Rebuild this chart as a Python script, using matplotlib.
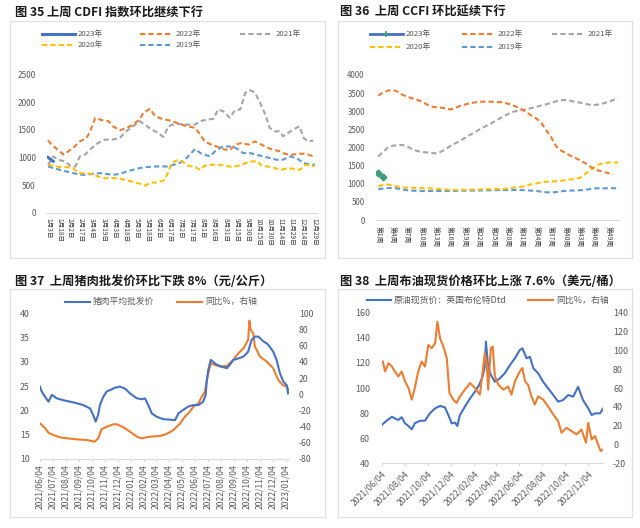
import numpy as np
import pandas as pd
import matplotlib
matplotlib.use('Agg')
import matplotlib.pyplot as plt
from matplotlib.lines import Line2D
from matplotlib.patches import Rectangle

plt.rcParams['font.family'] = ['Noto Sans CJK SC', 'DejaVu Sans']
plt.rcParams['axes.unicode_minus'] = False

# ---------------- data: 图35 CDFI (x = days after 1月3日) ----------------
cdfi_ticklabels = ['1月3日', '1月18日', '2月2日', '2月17日', '3月4日', '3月19日', '4月3日',
                   '4月18日', '5月3日', '5月18日', '6月2日', '6月17日', '7月2日', '7月17日',
                   '8月1日', '8月16日', '8月31日', '9月15日', '9月30日', '10月15日', '10月30日',
                   '11月14日', '11月29日', '12月14日', '12月29日']
cdfi_d2023 = [0, 7]
cdfi_v2023 = [1000, 930]
cdfi_d2022 = [0, 5, 21, 34, 43, 52, 57, 64, 73, 82, 88, 97, 107, 115, 124, 129, 138, 145, 154, 163,
              172, 185, 199, 206, 212, 221, 230, 240, 247, 253, 262, 271, 280, 289, 298, 305, 314,
              321, 330, 339, 348, 357, 361]
cdfi_v2022 = [1310, 1230, 1050, 1170, 1290, 1350, 1470, 1716, 1673, 1655, 1564, 1490, 1534, 1595,
              1685, 1807, 1880, 1745, 1698, 1673, 1636, 1576, 1534, 1413, 1290, 1230, 1190, 1140,
              1140, 1230, 1262, 1230, 1290, 1230, 1170, 1140, 1110, 1062, 1050, 1067, 1067, 1030, 1020]
cdfi_d2021 = [0, 7, 14, 23, 30, 37, 43, 50, 59, 68, 77, 87, 97, 106, 115, 124, 131, 140, 149, 156,
              163, 172, 185, 199, 206, 215, 224, 230, 237, 246, 253, 260, 267, 273, 280, 287, 294,
              300, 307, 313, 318, 325, 332, 340, 346, 352, 359]
cdfi_v2021 = [867, 1018, 958, 927, 850, 836, 1018, 1050, 1170, 1262, 1322, 1322, 1352, 1473, 1564,
              1655, 1595, 1504, 1443, 1370, 1564, 1610, 1595, 1595, 1655, 1685, 1698, 1867, 1836,
              1716, 1855, 1867, 2170, 2218, 2170, 1989, 1776, 1534, 1473, 1473, 1382, 1443, 1504,
              1564, 1352, 1290, 1304]
cdfi_d2020 = [0, 7, 16, 25, 34, 41, 50, 59, 68, 77, 86, 95, 104, 113, 122, 131, 140, 149, 158, 163,
              167, 176, 181, 190, 199, 206, 212, 221, 230, 240, 249, 258, 267, 276, 283, 289, 298,
              307, 316, 325, 334, 341, 348, 357, 361]
cdfi_v2020 = [867, 850, 825, 825, 807, 716, 716, 700, 655, 625, 625, 625, 595, 564, 534, 491, 545,
              545, 595, 745, 898, 958, 927, 850, 825, 776, 850, 867, 867, 850, 825, 850, 898, 927,
              935, 850, 836, 807, 776, 807, 790, 776, 867, 850, 840]
cdfi_d2019 = [0, 7, 16, 25, 34, 43, 52, 61, 70, 79, 88, 97, 106, 115, 124, 134, 142, 152, 161, 170,
              178, 185, 192, 199, 206, 212, 219, 226, 235, 244, 251, 258, 264, 273, 282, 291, 300,
              309, 318, 327, 336, 346, 355, 361]
cdfi_v2019 = [836, 807, 776, 745, 716, 686, 686, 704, 716, 700, 686, 700, 745, 776, 807, 825, 836,
              836, 836, 867, 900, 958, 1050, 1153, 1080, 1050, 1018, 1110, 1190, 1200, 1190, 1140,
              1080, 1080, 1050, 1018, 990, 958, 958, 1018, 990, 898, 867, 870]

# ---------------- data: 图36 CCFI (weekly) ----------------
ccfi_tickweeks = [1, 4, 7, 10, 13, 16, 19, 22, 25, 28, 31, 34, 37, 40, 43, 46, 49]
ccfi_ticklabels = ['第1周', '第4周', '第7周', '第10周', '第13周', '第16周', '第19周', '第22周',
                   '第25周', '第28周', '第31周', '第34周', '第37周', '第40周', '第43周', '第46周',
                   '第49周']
ccfi_2023 = [1290, 1200]
ccfi_2022 = [3430, 3520, 3570, 3590, 3540, 3460, 3400, 3360, 3320, 3270, 3200, 3130, 3110, 3100,
             3080, 3050, 3080, 3150, 3180, 3220, 3240, 3260, 3265, 3265, 3260, 3255, 3245, 3210,
             3170, 3110, 3050, 2960, 2880, 2800, 2680, 2480, 2300, 2050, 1930, 1850, 1780, 1720,
             1650, 1580, 1490, 1410, 1360, 1330, 1290, 1260]
ccfi_2021 = [1750, 1880, 2000, 2050, 2060, 2070, 2030, 1960, 1910, 1880, 1865, 1850, 1840, 1880,
             1950, 2040, 2110, 2180, 2260, 2340, 2410, 2490, 2560, 2630, 2700, 2780, 2850, 2920,
             2980, 3010, 3030, 3060, 3090, 3120, 3160, 3190, 3230, 3270, 3300, 3310, 3290, 3260,
             3240, 3210, 3180, 3170, 3190, 3220, 3260, 3310, 3360]
ccfi_2020 = [930, 970, 980, 950, 920, 900, 890, 890, 885, 880, 875, 870, 860, 850, 840, 830, 830,
             830, 830, 835, 840, 840, 845, 850, 850, 855, 860, 870, 890, 905, 920, 950, 990, 1010,
             1040, 1055, 1065, 1070, 1080, 1100, 1120, 1135, 1160, 1250, 1360, 1450, 1530, 1570,
             1585, 1585, 1580]
ccfi_2019 = [850, 870, 880, 890, 870, 840, 820, 810, 805, 800, 800, 800, 800, 800, 800, 800, 805,
             805, 810, 810, 812, 815, 818, 820, 822, 825, 828, 828, 828, 828, 825, 820, 810, 800,
             780, 765, 760, 770, 790, 805, 810, 815, 820, 830, 850, 870, 875, 875, 875, 875, 875]

# ---------------- data: 图37 猪肉 (days after 2021/06/04) ----------------
pork_start = '2021-06-04'
pork_price_day = [0, 4, 12, 20, 24, 28, 39, 55, 71, 86, 102, 118, 125, 131, 137, 141, 149, 157, 165,
                  177, 188, 200, 212, 228, 239, 247, 255, 263, 275, 290, 306, 318, 326, 337, 349,
                  361, 373, 384, 390, 392, 396, 402, 408, 416, 428, 440, 447, 455, 467, 479, 490,
                  498, 506, 514, 526, 534, 541, 549, 557, 565, 573, 581, 584]
pork_price = [24.9, 23.9, 22.8, 21.8, 22.5, 23.2, 22.5, 22.1, 21.8, 21.5, 21.1, 20.4, 19.1, 17.7,
              19.1, 21.1, 22.8, 23.9, 24.2, 24.7, 24.9, 24.5, 23.5, 22.5, 22.3, 22.5, 21.1, 19.4,
              18.7, 18.2, 18.1, 18.0, 19.4, 20.1, 20.8, 21.1, 21.1, 21.8, 23.2, 25.6, 28.3, 30.4,
              30.0, 29.4, 29.0, 28.7, 29.4, 30.4, 30.7, 31.1, 32.1, 34.5, 35.2, 35.2, 34.2, 33.8,
              33.1, 32.1, 30.4, 27.6, 25.9, 25.2, 23.5]
pork_yoy_day = [0, 12, 20, 31, 47, 63, 86, 110, 129, 137, 145, 157, 173, 181, 196, 212, 228, 239,
                259, 282, 298, 314, 330, 341, 353, 361, 373, 381, 388, 396, 402, 412, 424, 440,
                455, 467, 479, 490, 493, 496, 502, 506, 518, 534, 549, 561, 571, 581, 585]
pork_yoy = [-35.9, -42.0, -47.5, -50.3, -53.2, -54.4, -55.7, -56.5, -58.6, -54.4, -43.3, -40.1,
            -37.1, -37.1, -40.8, -46.3, -52.4, -54.4, -52.4, -51.6, -49.1, -44.2, -36.0, -27.7,
            -21.5, -15.4, -11.2, -3.0, 3.0, 25.9, 38.3, 36.2, 34.1, 35.0, 42.4, 50.6, 56.8, 67.1,
            91.0, 79.5, 75.4, 58.8, 46.4, 40.3, 32.1, 17.6, 11.5, 9.4, 5.3]
pork_ticklabels = ['2021/06/04', '2021/07/04', '2021/08/04', '2021/09/04', '2021/10/04',
                   '2021/11/04', '2021/12/04', '2022/01/04', '2022/02/04', '2022/03/04',
                   '2022/04/04', '2022/05/04', '2022/06/04', '2022/07/04', '2022/08/04',
                   '2022/09/04', '2022/10/04', '2022/11/04', '2022/12/04', '2023/01/04']

# ---------------- data: 图38 布油 (days after 2021/06/04) ----------------
brent_day = [0, 13, 27, 35, 44, 53, 62, 71, 80, 88, 102, 115, 128, 142, 155, 168, 177, 186, 195,
             201, 208, 221, 235, 248, 259, 268, 274, 277, 283, 290, 301, 314, 327, 341, 354, 367,
             374, 385, 394, 403, 416, 429, 442, 456, 469, 482, 496, 509, 522, 535, 549, 558, 567,
             580, 589]
brent_price = [70.5, 73.9, 77.1, 75.8, 74.5, 76.7, 71.9, 69.7, 67.1, 71.9, 73.9, 74.0, 79.8, 83.8,
               85.7, 84.6, 78.5, 71.9, 72.4, 69.7, 78.5, 85.1, 91.8, 97.1, 102.4, 109.0, 117.0,
               136.9, 117.0, 110.4, 105.0, 107.7, 111.7, 118.3, 123.7, 130.3, 131.6, 123.7, 124.9,
               115.7, 111.7, 105.0, 99.8, 94.4, 89.1, 90.4, 94.4, 93.1, 101.0, 90.4, 83.8, 78.5,
               79.8, 79.8, 83.8]
brent_yoy_day = [3, 9, 18, 27, 35, 44, 53, 62, 71, 80, 88, 97, 106, 115, 124, 133, 142, 148, 155,
                 164, 173, 180, 190, 199, 208, 221, 235, 248, 261, 270, 274, 279, 283, 290, 295,
                 301, 310, 323, 336, 345, 354, 367, 374, 381, 389, 398, 407, 416, 429, 442, 456,
                 469, 478, 491, 505, 518, 531, 543, 549, 558, 567, 575, 582, 589]
brent_yoy = [88.1, 77.6, 86.4, 82.9, 77.6, 72.3, 77.6, 67.0, 60.0, 47.7, 60.0, 77.6, 88.1, 82.9,
             105.8, 102.3, 107.6, 130.4, 112.9, 104.0, 91.7, 54.7, 47.7, 44.2, 51.1, 58.2, 65.3,
             60.0, 52.9, 82.9, 97.0, 86.4, 58.2, 102.3, 104.0, 72.3, 63.5, 58.2, 61.7, 52.9, 67.0,
             77.6, 81.2, 67.0, 63.5, 51.1, 42.4, 51.1, 47.7, 40.6, 31.8, 24.7, 12.5, 17.7, 14.1,
             10.7, 15.9, 1.9, 23.0, 5.4, 8.9, 0.1, -7.0, -5.2]
brent_ticklabels = ['2021/06/04', '2021/08/04', '2021/10/04', '2021/12/04', '2022/02/04',
                    '2022/04/04', '2022/06/04', '2022/08/04', '2022/10/04', '2022/12/04']

# ---------------- style ----------------
BLUE = '#4472C4'; ORANGE = '#ED7D31'; GRAY = '#A5A5A5'; YELLOW = '#FFC000'; LBLUE = '#5B9BD5'
TXT = '#595959'; GRID = '#D9D9D9'
DASH = (2.5, 1.5)

W, H = 640, 528
fig = plt.figure(figsize=(6.4, 5.28), dpi=100)


def fx(x):
    return x / W


def fy(y):
    return 1 - y / H


def rect(l, t, r, b):
    return [l / W, 1 - b / H, (r - l) / W, (b - t) / H]


def frame(l, t, r, b):
    fig.add_artist(Rectangle((fx(l), fy(b)), (r - l) / W, (b - t) / H, transform=fig.transFigure,
                             fill=False, edgecolor='#E0E0E0', lw=0.9))


def title(x, y, s):
    fig.text(fx(x), fy(y), s, fontsize=8.8, fontweight='bold', ha='left', va='center', color='#1a1a1a')


def leg(x, y, label, size, length=33, **kw):
    fig.add_artist(Line2D([fx(x), fx(x + length)], [fy(y), fy(y)], transform=fig.transFigure, **kw))
    fig.text(fx(x + length + 3), fy(y), label, fontsize=size, ha='left', va='center', color=TXT)


def style(ax, ylabsize):
    for s in ['top', 'right', 'left']:
        ax.spines[s].set_visible(False)
    ax.spines['bottom'].set_color(GRID)
    ax.tick_params(axis='y', length=0, labelsize=ylabsize, labelcolor=TXT)


# ================= Panel 1: CDFI =================
frame(10, 21, 325, 258)
title(15, 12.5, '图 35 上周 CDFI 指数环比继续下行')
ax1 = fig.add_axes(rect(47, 74.5, 317, 212.7))
ax1.set_facecolor('none')
ax1.plot(cdfi_d2019, cdfi_v2019, color=LBLUE, lw=1.5, dashes=DASH)
ax1.plot(cdfi_d2020, cdfi_v2020, color=YELLOW, lw=1.5, dashes=DASH)
ax1.plot(cdfi_d2021, cdfi_v2021, color=GRAY, lw=1.5, dashes=DASH)
ax1.plot(cdfi_d2022, cdfi_v2022, color=ORANGE, lw=1.5, dashes=DASH)
ax1.plot(cdfi_d2023, cdfi_v2023, color=BLUE, lw=2.2)
ax1.set_xlim(-1.4, 364)
ax1.set_ylim(0, 2500)
ax1.set_yticks(range(0, 2501, 500))
ax1.set_xticks(range(0, 361, 15))
ax1.set_xticklabels(cdfi_ticklabels, rotation=-90, fontsize=4.8, color='#404040', va='top', ha='center')
ax1.tick_params(axis='x', length=0, pad=3.5)
ax1.tick_params(axis='y', pad=8)
style(ax1, 5.9)
leg(42, 34, '2023年', 5.6, color=BLUE, lw=2.2)
leg(140, 34, '2022年', 5.6, color=ORANGE, lw=1.5, dashes=DASH)
leg(240, 34, '2021年', 5.6, color=GRAY, lw=1.5, dashes=DASH)
leg(42, 44.5, '2020年', 5.6, color=YELLOW, lw=1.5, dashes=DASH)
leg(140, 44.5, '2019年', 5.6, color=LBLUE, lw=1.5, dashes=DASH)

# ================= Panel 2: CCFI =================
frame(338, 21, 632, 258)
title(340, 12.5, '图 36  上周 CCFI 环比延续下行')
ax2 = fig.add_axes(rect(375.9, 75, 620.4, 220))
ax2.set_facecolor('none')
ax2.plot(range(1, len(ccfi_2019) + 1), ccfi_2019, color=LBLUE, lw=1.5, dashes=DASH)
ax2.plot(range(1, len(ccfi_2020) + 1), ccfi_2020, color=YELLOW, lw=1.5, dashes=DASH)
ax2.plot(range(1, len(ccfi_2021) + 1), ccfi_2021, color=GRAY, lw=1.5, dashes=DASH)
ax2.plot(range(1, len(ccfi_2022) + 1), ccfi_2022, color=ORANGE, lw=1.5, dashes=DASH)
ax2.plot(range(1, len(ccfi_2023) + 1), ccfi_2023, color=BLUE, lw=2.0, marker='D', ms=3.5,
         mfc='#3F9F7A', mec='#3F9F7A')
ax2.set_xlim(0.5, 51.5)
ax2.set_ylim(0, 4000)
ax2.set_yticks(range(0, 4001, 500))
ax2.set_xticks(ccfi_tickweeks)
ax2.set_xticklabels(ccfi_ticklabels, rotation=-90, fontsize=4.9, color='#404040', va='top', ha='center')
ax2.tick_params(axis='x', length=0, pad=4.5)
ax2.tick_params(axis='y', pad=8)
style(ax2, 5.7)
leg(370, 34.3, '2023年', 5.6, color=BLUE, lw=2.0)
fig.add_artist(Line2D([fx(386)], [fy(34.3)], transform=fig.transFigure, marker='+', ms=4,
                      color='#3F9F7A', mew=1.2))
leg(462, 34.3, '2022年', 5.6, color=ORANGE, lw=1.5, dashes=DASH)
leg(552, 34.3, '2021年', 5.6, color=GRAY, lw=1.5, dashes=DASH)
leg(370, 46.7, '2020年', 5.6, color=YELLOW, lw=1.5, dashes=DASH)
leg(462, 46.7, '2019年', 5.6, color=LBLUE, lw=1.5, dashes=DASH)

# ================= Panel 3: 猪肉 =================
frame(10, 289, 325, 517)
title(15, 281.5, '图 37  上周猪肉批发价环比下跌 8%（元/公斤）')
p0 = pd.Timestamp(pork_start)
ax3 = fig.add_axes(rect(40, 313.3, 288.5, 459))
ax3.set_facecolor('none')
ax3r = ax3.twinx()
ax3r.plot(p0 + pd.to_timedelta(pork_yoy_day, 'D'), pork_yoy, color=ORANGE, lw=1.5)
ax3.plot(p0 + pd.to_timedelta(pork_price_day, 'D'), pork_price, color=BLUE, lw=1.5)
ax3.set_zorder(ax3r.get_zorder() + 1)
ax3.set_xlim(p0, p0 + pd.Timedelta(days=585))
ax3.set_ylim(10, 40)
ax3.set_yticks(range(10, 41, 5))
ax3r.set_ylim(-80, 100)
ax3r.set_yticks(range(-80, 101, 20))
ax3.set_xticks(pd.to_datetime(pork_ticklabels, format='%Y/%m/%d'))
ax3.set_xticklabels(pork_ticklabels, rotation=90, fontsize=6.2, color=TXT, va='top', ha='center')
ax3.tick_params(axis='x', length=2.5, color=GRID, pad=1.5)
style(ax3, 6.3)
style(ax3r, 6.3)
ax3r.spines['bottom'].set_visible(False)
ax3.tick_params(axis='y', pad=7.5)
ax3r.tick_params(axis='y', pad=7.5)
leg(65, 301.7, '猪肉平均批发价', 6.3, length=25, color=BLUE, lw=1.5)
leg(177, 301.7, '同比%，右轴', 6.3, length=25, color=ORANGE, lw=1.5)

# ================= Panel 4: 布油 =================
frame(338, 289, 632, 517)
title(340, 281.5, '图 38  上周布油现货价格环比上涨 7.6%（美元/桶）')
ax4 = fig.add_axes(rect(381.7, 312.7, 603.3, 463.3))
ax4.set_facecolor('none')
ax4r = ax4.twinx()
ax4.plot(p0 + pd.to_timedelta(brent_day, 'D'), brent_price, color=BLUE, lw=1.5)
ax4r.plot(p0 + pd.to_timedelta(brent_yoy_day, 'D'), brent_yoy, color=ORANGE, lw=1.5)
ax4.set_xlim(p0, p0 + pd.Timedelta(days=589))
ax4.set_ylim(40, 160)
ax4.set_yticks(range(40, 161, 20))
ax4r.set_ylim(-20, 140)
ax4r.set_yticks(range(-20, 141, 20))
ax4.set_xticks(pd.to_datetime(brent_ticklabels, format='%Y/%m/%d'))
ax4.set_xticklabels(brent_ticklabels, rotation=45, fontsize=6.2, color=TXT, ha='right', va='top',
                    rotation_mode='anchor')
ax4.tick_params(axis='x', length=2.5, color=GRID, pad=2)
style(ax4, 6.4)
style(ax4r, 6.4)
ax4r.spines['bottom'].set_visible(False)
ax4.tick_params(axis='y', pad=8.5)
ax4r.tick_params(axis='y', pad=7)
leg(366.7, 300, '原油现货价：英国布伦特Dtd', 6.4, length=24, color=BLUE, lw=1.5)
leg(528, 300, '同比%，右轴', 6.4, length=25, color=ORANGE, lw=1.5)

fig.savefig('out.png', dpi=100)
